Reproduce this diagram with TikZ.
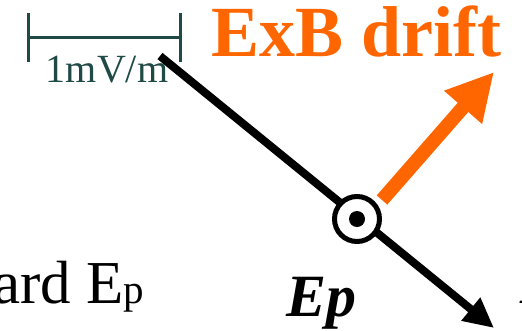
\documentclass[tikz,border=0pt]{standalone}
\usepackage{fontspec}
\setmainfont{Liberation Serif}
\usetikzlibrary{arrows.meta}
\definecolor{drift}{HTML}{FF6600}
\definecolor{scalebar}{HTML}{1F4A46}
\begin{document}
\begin{tikzpicture}[x=1pt,y=-1pt,
  bartick/.style={draw=scalebar, line width=3pt},
  label/.style={inner sep=0pt},
  field/.style={line width=8pt, -{Triangle[length=30pt,width=28pt]}},
  driftarrow/.style={draw=drift, line width=14pt, -{Triangle[length=47pt,width=47pt]}},
  bfield/.style={circle, draw, line width=5pt, fill=white, minimum size=45pt, inner sep=0pt},
  bdot/.style={circle, fill, minimum size=16pt, inner sep=0pt}]
\useasboundingbox (0,0) rectangle (522,330);
\clip (0,0) rectangle (522,330);
% scale bar
\coordinate (sbLt) at (28,13);
\coordinate (sbLb) at (28,62);
\coordinate (sbRt) at (180,13);
\coordinate (sbRb) at (180,62);
\coordinate (sbL) at (28,37);
\coordinate (sbR) at (180,37);
\draw[bartick] (sbLt) -- (sbLb) (sbRt) -- (sbRb) (sbL) -- (sbR);
\node[label, anchor=base, text=scalebar, font=\fontsize{40}{40}\selectfont] (sblabel) at (107,82) {1mV/m};
% titles
\node[label, anchor=base west, text=drift, font=\fontsize{72}{72}\selectfont\bfseries] (exb) at (211,56) {ExB drift};
\node[label, anchor=base west, font=\fontsize{61}{61}\selectfont] (toward) at (-7,303) {ard E{\fontsize{41}{41}\selectfont p}};
\node[label, anchor=base west, font=\fontsize{60}{60}\selectfont\bfseries\itshape] (ep) at (286,316) {Ep};
\node[label, anchor=base west, font=\fontsize{60}{60}\selectfont\bfseries\itshape] (bcut) at (520,303) {B};
% field line and B circle
\coordinate (estart) at (160,56);
\coordinate (etip) at (494,328);
\draw[field] (estart) -- (etip);
\node[bfield] (bc) at (357,219) {};
\node[bdot] (bd) at (bc.center) {};
% drift arrow
\coordinate (dstart) at (382,200);
\coordinate (dtip) at (494,72);
\draw[driftarrow] (dstart) -- (dtip);
\end{tikzpicture}
\end{document}
